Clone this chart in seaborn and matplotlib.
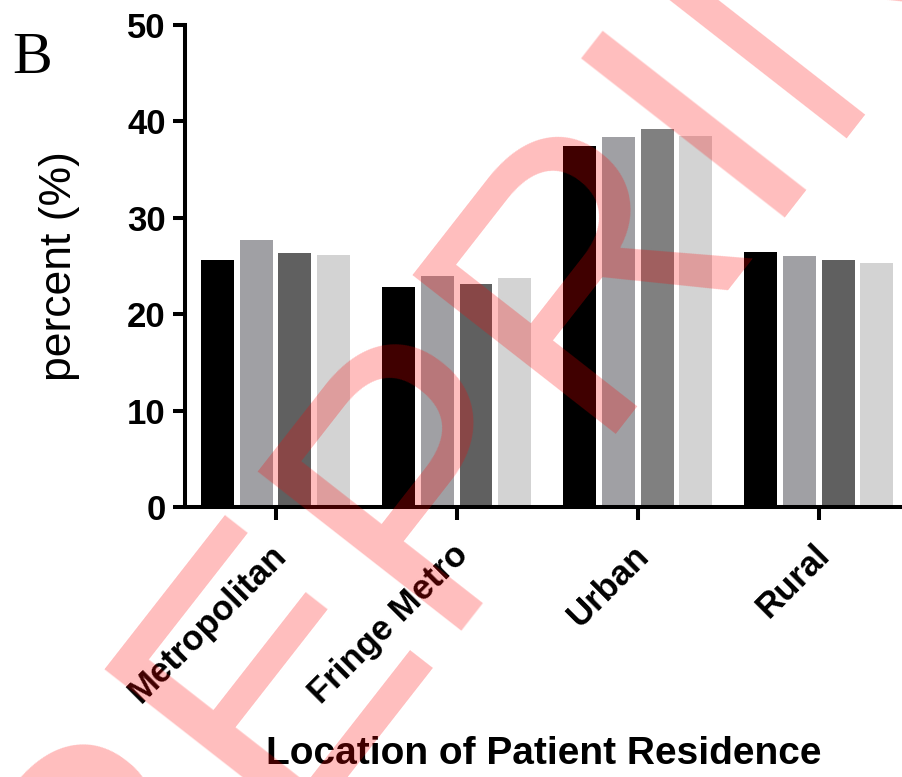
import pandas as pd
import numpy as np
import matplotlib
matplotlib.use("Agg")
import matplotlib.pyplot as plt
import matplotlib.transforms as mtransforms
import seaborn as sns

# Data
locations = ["Metropolitan", "Fringe Metro", "Urban", "Rural"]
series = ["Group 1", "Group 2", "Group 3", "Group 4"]
group1 = [25.6, 22.8, 37.5, 26.5]
group2 = [27.7, 24.0, 38.4, 26.0]
group3 = [26.4, 23.1, 39.2, 25.6]
group4 = [26.1, 23.8, 38.5, 25.3]
bar_colors = ["#000000", "#a0a0a4", "#606060", "#d3d3d3"]

df = pd.DataFrame({
    "Location": locations * 4,
    "Series": np.repeat(series, len(locations)),
    "Percent": group1 + group2 + group3 + group4,
})

sns.set_style("ticks")
plt.rcParams["font.family"] = ["Liberation Sans", "DejaVu Sans"]
plt.rcParams.update({
    "text.color": "black", "axes.labelcolor": "black",
    "xtick.color": "black", "ytick.color": "black",
    "axes.edgecolor": "black",
})

fig = plt.figure(figsize=(9.02, 7.77), dpi=100)
ax = fig.add_axes([0.2051, 0.3475, 0.795, 0.6203])

sns.barplot(data=df, x="Location", y="Percent", hue="Series", order=locations,
            hue_order=series, palette=bar_colors, width=0.855, gap=0.15,
            saturation=1, legend=False, ax=ax, linewidth=0)

# the third Urban bar is a lighter grey in the original
for patch in ax.containers[2].patches[2:3]:
    patch.set_facecolor("#808080")

ax.set_ylim(0, 50)
ax.set_xlim(-0.5, 3.46)
ax.set_yticks([0, 10, 20, 30, 40, 50])
sns.despine(ax=ax)
for side in ["left", "bottom"]:
    ax.spines[side].set_linewidth(2.9)
    ax.spines[side].set_color("black")
ax.tick_params(axis="both", length=9, width=2.9, color="black", labelcolor="black")
ax.tick_params(axis="y", pad=5, labelsize=25)
ax.tick_params(axis="x", pad=22, labelsize=25)
for lbl in ax.get_yticklabels():
    lbl.set_fontweight("bold")
shift = mtransforms.ScaledTranslation(6 / 100, 0, fig.dpi_scale_trans)
for lbl in ax.get_xticklabels():
    lbl.set_fontweight("bold")
    lbl.set_rotation(45)
    lbl.set_ha("right")
    lbl.set_va("center")
    lbl.set_rotation_mode("anchor")
    lbl.set_transform(lbl.get_transform() + shift)

ax.set_ylabel("percent (%)", fontsize=32, color="black")
ax.yaxis.set_label_coords(-0.146, 0.5)
ax.set_xlabel("Location of Patient Residence", fontsize=28, fontweight="bold",
              color="black")
ax.xaxis.set_label_coords(0.5, -0.475)

fig.text(12 / 902, 1 - 73 / 777, "B", fontsize=43, va="baseline",
         family="Liberation Serif", color="black")

# watermark
fig.text(-0.0475, -0.593, "PREPRINT", fontsize=270, rotation=52,
         rotation_mode="anchor", ha="left", va="baseline",
         color="red", alpha=0.26)

fig.savefig("out.png", dpi=100)
